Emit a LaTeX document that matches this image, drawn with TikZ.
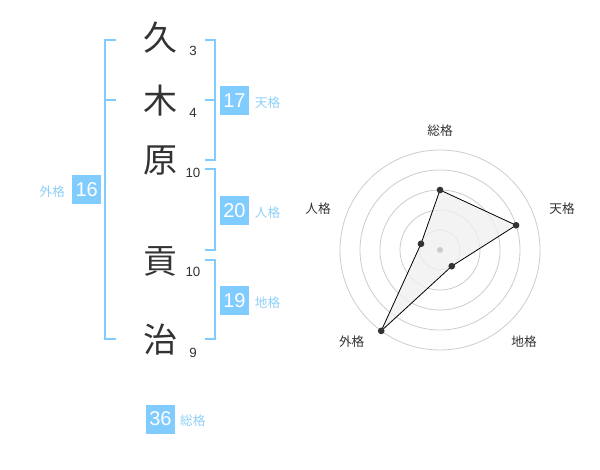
\documentclass[tikz,border=0pt]{standalone}
\usepackage{fontspec}
\setmainfont{Liberation Sans}
\newfontfamily\jp{Noto Sans CJK JP}
\usetikzlibrary{positioning}

\definecolor{kakublue}{HTML}{80CCFF}
\definecolor{kakutext}{HTML}{8DD0F7}
\definecolor{inkgray}{HTML}{333333}
\definecolor{ringgray}{HTML}{CCCCCC}
\definecolor{areagray}{HTML}{F0F0F0}

\tikzset{
  kanji/.style={font=\jp\fontsize{25.5}{25.5}\selectfont, text=inkgray, inner sep=0pt},
  strokes/.style={font=\fontsize{10}{10}\selectfont, text=inkgray, inner sep=0pt},
  numbox/.style={fill=kakublue, text=white, minimum size=21.75pt, inner sep=0pt, font=\fontsize{15}{15}\selectfont},
  kakulabel/.style={font=\jp\fontsize{9.5}{9.5}\selectfont, text=kakutext, inner sep=0pt},
  bracket/.style={draw=kakublue, line width=1.5pt},
  axislabel/.style={font=\jp\fontsize{9.5}{9.5}\selectfont, text=inkgray, inner sep=0pt},
  vertex/.style={circle, fill=inkgray, minimum size=5pt, inner sep=0pt}
}

\begin{document}
\begin{tikzpicture}[x=0.75pt, y=-0.75pt]
      \useasboundingbox (0,0) rectangle (600,470);

      \node[kanji] (ku)   at (160,38)  {久};
      \node[kanji] (ki)   at (160,101) {木};
      \node[kanji] (hara) at (160,161) {原};
      \node[kanji] (mitu) at (160,261) {貢};
      \node[kanji] (ji)   at (160,340) {治};

      \node[strokes] (s1) at (193,51)  {3};
      \node[strokes] (s2) at (193,113) {4};
      \node[strokes] (s3) at (193,173) {10};
      \node[strokes] (s4) at (193,272) {10};
      \node[strokes] (s5) at (193,353) {9};

      \draw[bracket] (115.7,40)--(105,40)--(105,339.3)--(115.7,339.3);
      \draw[bracket] (105,100)--(115.7,100);
      \draw[bracket] (205,40)--(214.7,40)--(214.7,160)--(205,160);
      \draw[bracket] (214.7,100)--(205,100);
      \draw[bracket] (205,169.3)--(214.7,169.3)--(214.7,250)--(205,250);
      \draw[bracket] (205,260)--(214.7,260)--(214.7,339.3)--(205,339.3);

      \node[numbox] (ten)  at (234.5,100.3) {17};
      \node[numbox] (jin)  at (234.5,211)   {20};
      \node[numbox] (chi)  at (234.5,300.3) {19};
      \node[numbox] (gai)  at (86.7,190)    {16};
      \node[numbox] (sou)  at (160.5,419)   {36};

      \node[kakulabel, anchor=base west] (tenl) at ([xshift=4pt]ten.base east) {天格};
      \node[kakulabel, anchor=base west] (jinl) at ([xshift=4pt]jin.base east) {人格};
      \node[kakulabel, anchor=base west] (chil) at ([xshift=4pt]chi.base east) {地格};
      \node[kakulabel, anchor=base east] (gail) at ([xshift=-5pt]gai.base west) {外格};
      \node[kakulabel, anchor=base west] (soul) at ([xshift=3.5pt]sou.base east) {総格};

      \begin{scope}[shift={(440,250)}, x=0.75pt, y=0.75pt]
        \foreach \r in {20,40,60,80,100}
          \draw[ringgray, line width=0.6pt] (0,0) circle [radius=\r];

        \coordinate (psou) at (90:60);
        \coordinate (pten) at (18:80);
        \coordinate (pchi) at (-54:20);
        \coordinate (pgai) at (-126:100);
        \coordinate (pjin) at (162:20);

        \draw[fill=areagray, fill opacity=0.8, draw=black, line width=0.6pt]
          (psou)--(pten)--(pchi)--(pgai)--(pjin)--cycle;
        \fill[ringgray] (0,0) circle [radius=3];
        \foreach \p in {psou,pten,pchi,pgai,pjin}
          \node[vertex] at (\p) {};

        \node[axislabel] (asou) at (0,119.3)     {総格};
        \node[axislabel] (aten) at (122,41.3)    {天格};
        \node[axislabel] (achi) at (84,-91.7)    {地格};
        \node[axislabel] (agai) at (-88.3,-91.7) {外格};
        \node[axislabel] (ajin) at (-122,41.3)   {人格};
      \end{scope}
    \end{tikzpicture}
\end{document}
